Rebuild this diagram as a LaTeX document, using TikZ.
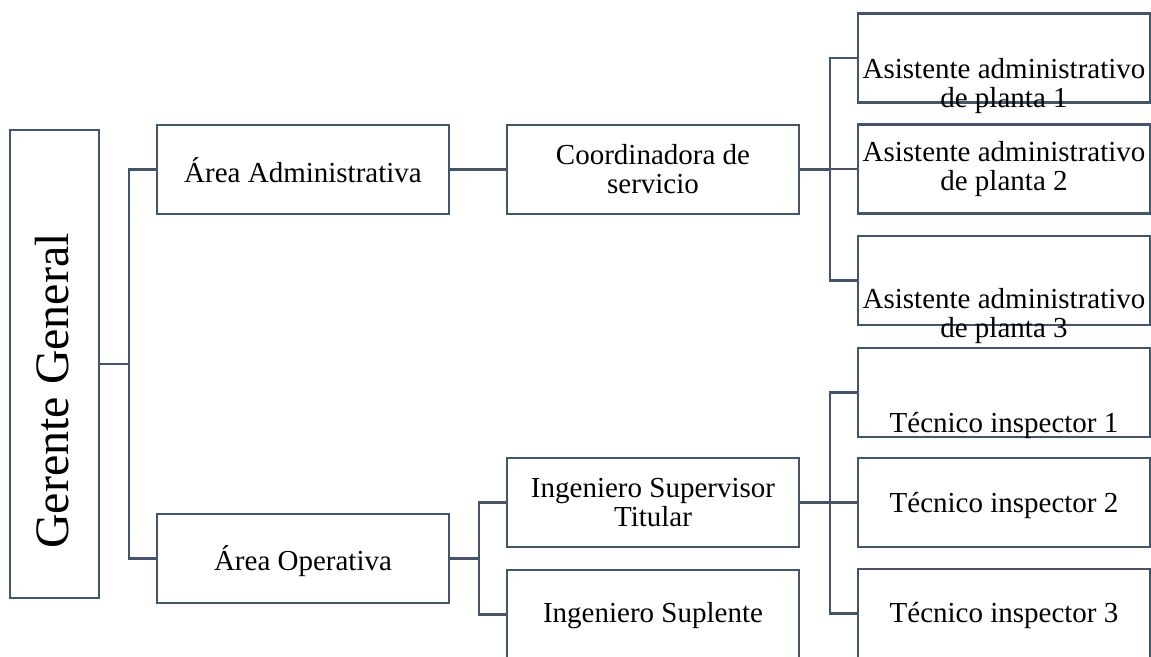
\documentclass[tikz,border=0pt]{standalone}
\usepackage{fontspec}
\setmainfont{Liberation Serif}
\definecolor{linec}{HTML}{44546A}
\begin{document}
\begin{tikzpicture}[x=0.75pt,y=-0.75pt,
  box/.style={draw=linec, line width=1.8pt, minimum width=219pt, minimum height=66.75pt, inner sep=0pt},
  lbl/.style={font=\fontsize{21.75pt}{21.75pt}\selectfont, align=center, inner sep=0pt},
  conn/.style={draw=linec, line width=1.8pt}]
\useasboundingbox (0,0) rectangle (1151,656);
% boxes
\node[box, minimum width=66.75pt, minimum height=351pt] (ger) at (54.5,364) {};
\node[box] (aa) at (303,169.5) {};
\node[box] (ao) at (303,558.5) {};
\node[box] (co) at (653,169.5) {};
\node[box] (is) at (653,502.5) {};
\node[box] (isp) at (653,614.5) {};
\node[box] (as1) at (1004,58) {};
\node[box] (as2) at (1004,169) {};
\node[box] (as3) at (1004,280.5) {};
\node[box] (t1) at (1004,392.5) {};
\node[box] (t2) at (1004,502.5) {};
\node[box] (t3) at (1004,613.5) {};
% connectors
\draw[conn] (ger.east) -- ++(29,0) |- (aa.west);
\draw[conn] (ger.east) -- ++(29,0) |- (ao.west);
\draw[conn] (aa.east) -- (co.west);
\draw[conn] (co.east) -- ++(30,0) |- (as1.west);
\draw[conn] (co.east) -- ++(30,0) |- (as2.west);
\draw[conn] (co.east) -- ++(30,0) |- (as3.west);
\draw[conn] (ao.east) -- ++(29,0) |- (is.west);
\draw[conn] (ao.east) -- ++(29,0) |- (isp.west);
\draw[conn] (is.east) -- ++(30,0) |- (t1.west);
\draw[conn] (is.east) -- ++(30,0) |- (t2.west);
\draw[conn] (is.east) -- ++(30,0) |- (t3.west);
% texts
\node[lbl, font=\fontsize{36pt}{36pt}\selectfont, rotate=90, anchor=base] (gertxt) at (68,391) {Gerente General};
\node[lbl, anchor=base] (aatxt) at (303,182) {Área Administrativa};
\node[lbl, anchor=base] (aotxt) at (303,570) {Área Operativa};
\node[lbl] (cotxt) at (653,169) {Coordinadora de\\servicio};
\node[lbl] (istxt) at (653,502.5) {Ingeniero Supervisor\\Titular};
\node[lbl, anchor=base] (isptxt) at (653,622) {Ingeniero Suplente};
\node[lbl] (as1txt) at (1004,86) {Asistente administrativo\\de planta 1};
\node[lbl] (as2txt) at (1004,169) {Asistente administrativo\\de planta 2};
\node[lbl] (as3txt) at (1004,316) {Asistente administrativo\\de planta 3};
\node[lbl, anchor=base] (t1txt) at (1004,432) {Técnico inspector 1};
\node[lbl, anchor=base] (t2txt) at (1004,512) {Técnico inspector 2};
\node[lbl, anchor=base] (t3txt) at (1004,622) {Técnico inspector 3};
\end{tikzpicture}
\end{document}
